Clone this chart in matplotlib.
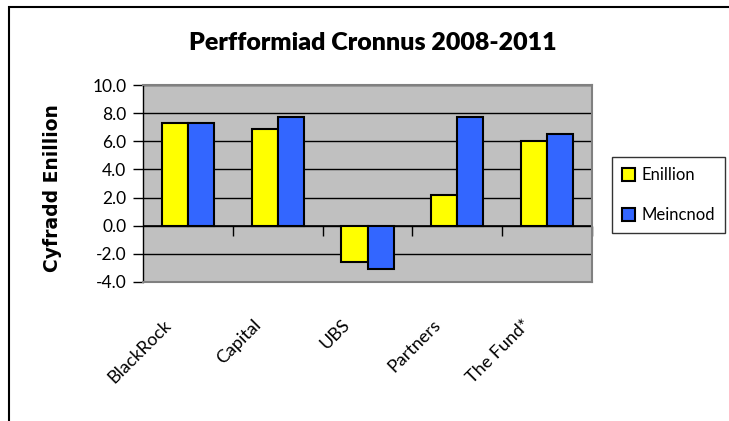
import numpy as np
import matplotlib
matplotlib.use("Agg")
import matplotlib.pyplot as plt
from matplotlib.patches import Rectangle, Patch
from matplotlib.transforms import ScaledTranslation

# data
funds = ["BlackRock", "Capital", "UBS", "Partners", "The Fund*"]
enillion = [7.3, 6.9, -2.6, 2.2, 6.0]
meincnod = [7.3, 7.7, -3.1, 7.7, 6.5]
yticks = [-4.0, -2.0, 0.0, 2.0, 4.0, 6.0, 8.0, 10.0]

plt.rcParams['font.family'] = ['Lato', 'DejaVu Sans']

fig = plt.figure(figsize=(7.29, 4.21), dpi=100)
ax = fig.add_axes([143/729, 1-282/421, 449/729, 197/421])

x = np.arange(len(funds))
w = 0.29
ax.bar(x - w/2, enillion, w, color="#FFFF00", edgecolor="black", linewidth=1.5, label="Enillion", zorder=3)
ax.bar(x + w/2, meincnod, w, color="#3366FF", edgecolor="black", linewidth=1.5, label="Meincnod", zorder=3)

ax.set_facecolor("#C0C0C0")
ax.set_xlim(-0.5, len(funds) - 0.5)
ax.set_ylim(yticks[0], yticks[-1])
ax.set_yticks(yticks)
ax.set_yticklabels(["%.1f" % v for v in yticks], fontsize=12.5)
ax.tick_params(axis='y', direction='out', length=7, width=1, color='black', pad=5)
ax.yaxis.grid(True, color='black', linewidth=1)
ax.set_axisbelow(True)

for s in ['top', 'right', 'bottom']:
    ax.spines[s].set_color('#808080')
    ax.spines[s].set_linewidth(1.5)
ax.spines['left'].set_color('black')
ax.spines['left'].set_linewidth(1)

# category labels below the plot area
ax.set_xticks(x)
ax.set_xticklabels(funds, rotation=45, ha='right', va='top', fontsize=13)
ax.tick_params(axis='x', length=0, pad=25)
shift = ScaledTranslation(-14/100, 0, fig.dpi_scale_trans)
for lab in ax.get_xticklabels():
    lab.set_transform(lab.get_transform() + shift)

# zero line with category separators
zero = (0 - yticks[0]) / (yticks[-1] - yticks[0])
sec = ax.secondary_xaxis(zero)
sec.set_xticks(np.arange(len(funds)) + 0.5)
sec.xaxis.set_ticks_position('bottom')
sec.tick_params(axis='x', direction='out', length=7, width=1, color='black', labelbottom=False, labeltop=False)
for s in sec.spines.values():
    s.set_visible(False)
ax.axhline(0, color='black', linewidth=1.2, zorder=2)

fig.text(373/729, 1-43/421, "Perfformiad Cronnus 2008-2011", ha='center', va='center',
         fontsize=18, fontweight='heavy')
fig.text(53/729, 1-188/421, "Cyfradd Enillion", rotation=90, ha='center', va='center',
         fontsize=13.5, fontweight='bold', family=['DejaVu Sans'])

handles = [Patch(facecolor="#FFFF00", edgecolor="black", linewidth=1.5),
           Patch(facecolor="#3366FF", edgecolor="black", linewidth=1.5)]
leg = fig.legend(handles, ["Enillion", "Meincnod"], loc='upper left',
                 bbox_to_anchor=(612/729, 1-157/421), fontsize=12, frameon=True,
                 fancybox=False, handlelength=0.8, handleheight=0.8, handletextpad=0.35,
                 labelspacing=1.45, borderpad=0.6, borderaxespad=0)
leg.get_frame().set_edgecolor('black')
leg.get_frame().set_linewidth(1)

fig.add_artist(Rectangle((9/729, -0.1), 1.2, 1.1 - 7/421, transform=fig.transFigure,
                         fill=False, edgecolor='black', linewidth=1.5))

fig.savefig("out.png", dpi=100)
